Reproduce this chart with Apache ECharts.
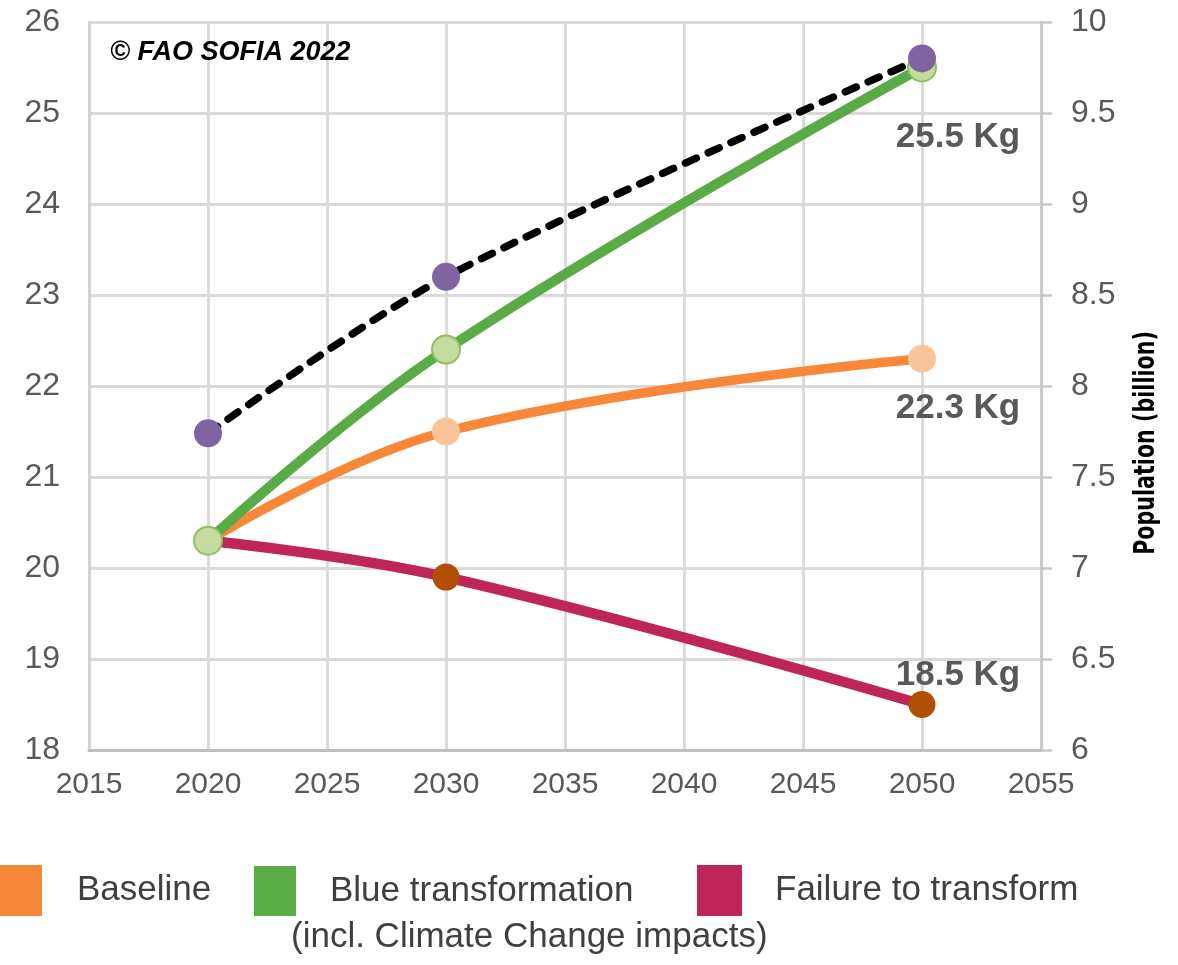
<!DOCTYPE html>
<html>
<head>
<meta charset="utf-8">
<script src="https://cdn.jsdelivr.net/npm/echarts@6/dist/echarts.min.js"></script>
<style>
html,body{margin:0;padding:0;background:#fff;}
#c{width:1178px;height:965px;}
</style>
</head>
<body>
<div id="c"></div>
<script>
var years = [2020, 2030, 2050];
var baseline = [20.3, 21.5, 22.3];
var blueTransformation = [20.3, 22.4, 25.5];
var failureToTransform = [20.3, 19.9, 18.5];
var population = [7.74, 8.6, 9.8];
var leftTicks = {min: 18, max: 26, interval: 1};
var rightTicks = {min: 6, max: 10, interval: 0.5};
var xTicks = {min: 2015, max: 2055, interval: 5};

function pairs(vals) {
  return years.map(function (y, i) { return [y, vals[i]]; });
}
function withEndLabel(vals, offset) {
  var d = pairs(vals);
  var last = d[d.length - 1];
  d[d.length - 1] = {
    value: last,
    label: {
      show: true,
      position: 'inside',
      offset: offset,
      formatter: function (p) { return p.value[1] + ' Kg'; },
      fontFamily: '"Liberation Sans", Arial, sans-serif',
      fontWeight: 'bold',
      fontSize: 35,
      color: '#595959'
    }
  };
  return d;
}

var FONT = '"Liberation Sans", Arial, sans-serif';
var LEG = {fontFamily: FONT, fontSize: 35, color: '#404040'};
var chart = echarts.init(document.getElementById('c'));
chart.setOption({
  animation: false,
  backgroundColor: '#fff',
  grid: {left: 89, right: 137, top: 22, bottom: 215, containLabel: false},
  xAxis: {
    type: 'value', min: xTicks.min, max: xTicks.max, interval: xTicks.interval,
    axisLine: {show: true, lineStyle: {color: '#bfbfbf', width: 3}},
    axisTick: {show: false},
    splitLine: {show: true, lineStyle: {color: '#d9d9d9', width: 2.8}},
    axisLabel: {fontFamily: FONT, fontSize: 30, color: '#595959', margin: 20,
      formatter: function (v) { return String(v); }}
  },
  yAxis: [{
    type: 'value', min: leftTicks.min, max: leftTicks.max, interval: leftTicks.interval,
    axisLine: {show: true, lineStyle: {color: '#d0d0d0', width: 2.5}},
    axisTick: {show: false},
    splitLine: {show: true, lineStyle: {color: '#d9d9d9', width: 2.8}},
    axisLabel: {fontFamily: FONT, fontSize: 32, color: '#595959', margin: 29}
  }, {
    type: 'value', position: 'right', min: rightTicks.min, max: rightTicks.max, interval: rightTicks.interval,
    axisLine: {show: true, lineStyle: {color: '#c8c8c8', width: 2.8}},
    axisTick: {show: true, length: 11, lineStyle: {color: '#c8c8c8', width: 2.5}},
    splitLine: {show: false},
    axisLabel: {fontFamily: FONT, fontSize: 32, color: '#595959', margin: 30}
  }],
  legend: [{
    data: [{name: 'Baseline', itemStyle: {color: '#F7883A', borderWidth: 0}}],
    left: 0, top: 865, padding: 0,
    icon: 'rect', itemWidth: 42, itemHeight: 51,
    textStyle: Object.assign({padding: [0, 0, 14, 30]}, LEG)
  }, {
    data: [{name: 'Blue transformation', itemStyle: {color: '#58AB45', borderWidth: 0}}],
    left: 254, top: 866, padding: 0,
    icon: 'rect', itemWidth: 42, itemHeight: 50,
    textStyle: Object.assign({padding: [0, 0, 4, 29]}, LEG)
  }, {
    data: [{name: 'Failure to transform', itemStyle: {color: '#C0255A', borderWidth: 0}}],
    left: 697, top: 865, padding: 0,
    icon: 'rect', itemWidth: 45, itemHeight: 51,
    textStyle: Object.assign({padding: [0, 0, 2, 28]}, LEG)
  }],
  graphic: [{
    type: 'text', left: 110, top: 39, z: 100,
    style: {text: '© FAO SOFIA 2022', font: 'italic bold 27px "Liberation Sans", Arial, sans-serif', fill: '#000'}
  }, {
    type: 'text', x: 1147, y: 443, rotation: Math.PI / 2, scaleX: 0.82, z: 100,
    style: {text: 'Population (billion)', font: 'bold 28px "DejaVu Sans Condensed", "Liberation Sans", sans-serif', fill: '#000', align: 'center', verticalAlign: 'middle'}
  }, {
    type: 'text', left: 291, top: 920, z: 100,
    style: {text: '(incl. Climate Change impacts)', font: '35px "Liberation Sans", Arial, sans-serif', fill: '#404040'}
  }],
  series: [{
    name: 'Baseline', type: 'line', smooth: 0.4, z: 3,
    data: withEndLabel(baseline, [36, 50]),
    lineStyle: {color: '#F7883A', width: 9.5},
    itemStyle: {color: '#F9C499'},
    symbol: 'circle', symbolSize: 28,
    emphasis: {disabled: true}
  }, {
    name: 'Failure to transform', type: 'line', smooth: 0.4, z: 3,
    data: withEndLabel(failureToTransform, [36, -29]),
    lineStyle: {color: '#C0255A', width: 10.5},
    itemStyle: {color: '#B04E03'},
    symbol: 'circle', symbolSize: 27,
    emphasis: {disabled: true}
  }, {
    name: 'Blue transformation', type: 'line', smooth: 0.4, z: 4,
    data: withEndLabel(blueTransformation, [36, 70]),
    lineStyle: {color: '#58AB45', width: 10},
    itemStyle: {color: '#C5DC9E', borderColor: '#8DC063', borderWidth: 2},
    symbol: 'circle', symbolSize: 28,
    emphasis: {disabled: true}
  }, {
    name: 'Population', type: 'line', smooth: 0.3, z: 5, yAxisIndex: 1,
    data: pairs(population),
    lineStyle: {color: '#000', width: 7.5, type: [12, 13], cap: 'round'},
    itemStyle: {color: '#8064A2'},
    symbol: 'circle', symbolSize: 28,
    emphasis: {disabled: true}
  }]
});
</script>
</body>
</html>
